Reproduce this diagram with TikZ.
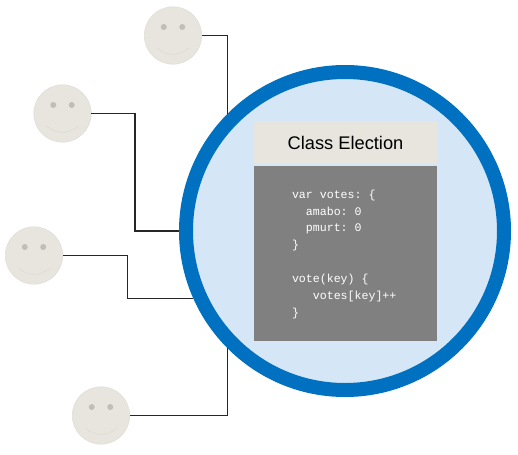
\documentclass[tikz,border=0pt]{standalone}
\usepackage{fontspec}
\setmainfont{Liberation Sans}
\setmonofont{Liberation Mono}
\usetikzlibrary{positioning,calc}
\definecolor{ringblue}{HTML}{0070C0}
\definecolor{paleblue}{HTML}{D5E6F7}
\definecolor{facegray}{HTML}{E7E5DE}
\definecolor{eyegray}{HTML}{BFBEB7}
\definecolor{smilegray}{HTML}{DBD9D0}
\tikzset{
  face/.style={circle,draw=smilegray,line width=.2pt,fill=facegray,minimum size=1.15cm,inner sep=0},
  eye/.style={circle,fill=eyegray,minimum size=.12cm,inner sep=0},
  link/.style={draw=black!85,line width=.6pt},
  titlebox/.style={fill=facegray,minimum width=3.66cm,minimum height=.86cm,inner sep=0,font=\fontsize{10.4}{12}\selectfont},
  codebox/.style={fill=black!50,minimum width=3.66cm,minimum height=3.5cm,inner sep=0},
  codetext/.style={text=white,align=left,inner sep=0,font=\ttfamily\fontsize{6.6}{9.6}\selectfont}
}
\newcommand{\facedetails}[1]{
  \node[eye] at ($(#1)+(-.185,.17)$) {};
  \node[eye] at ($(#1)+(.185,.17)$) {};
  \draw[smilegray,line width=.3pt] ($(#1)+(-.315,-.25)$) .. controls ($(#1)+(-.12,-.42)$) and ($(#1)+(.12,-.42)$) .. ($(#1)+(.315,-.25)$);
}
\begin{document}
\begin{tikzpicture}
\useasboundingbox (0,0) rectangle (10.36,9.08);

\node[circle,draw=ringblue,line width=.28cm,fill=paleblue,minimum size=6.36cm,inner sep=0] (election) at (6.9,4.46) {};

\node[titlebox] (title) at (6.91,6.23) {Class Election};
\node[codebox,below=.02cm of title] (code) {};
\node[codetext,anchor=west] (votes) at ($(code.west)+(.76,-.02)$) {var votes: \{\\
\ \ amabo: 0\\
\ \ pmurt: 0\\
\}\\
\\
vote(key) \{\\
\ \ \ votes[key]++\\
\}};

\node[face] (facea) at (3.46,8.37) {};
\facedetails{facea}
\node[face] (faceb) at (1.25,6.81) {};
\facedetails{faceb}
\node[face] (facec) at (.68,3.97) {};
\facedetails{facec}
\node[face] (faced) at (2.02,.77) {};
\facedetails{faced}

\coordinate (bendb) at (2.7,0);
\coordinate (bendc) at (2.55,0);

\draw[link] (facea.east) -| (election.135);
\draw[link] (faceb.east) -| (bendb |- election.west) -- (election.west);
\draw[link] (facec.east) -| (bendc |- election.204) -- (election.204);
\draw[link] (faced.east) -| (election.225);
\end{tikzpicture}
\end{document}
